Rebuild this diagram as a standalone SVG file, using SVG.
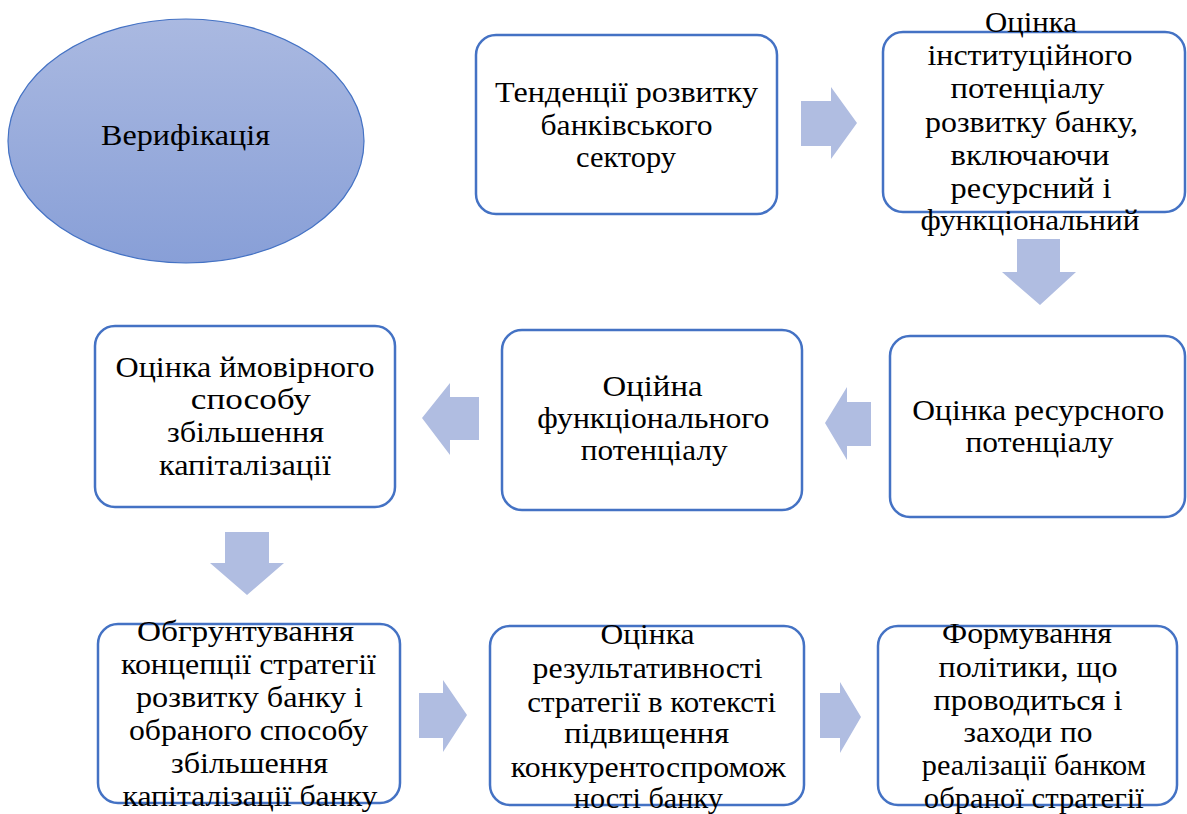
<svg xmlns="http://www.w3.org/2000/svg" width="1187" height="814" viewBox="0 0 1187 814">
<defs>
<linearGradient id="eg" x1="0" y1="0" x2="0" y2="1">
<stop offset="0" stop-color="#AAB9E1"/>
<stop offset="1" stop-color="#889FD7"/>
</linearGradient>
<style>
.box{fill:#FFFFFF;stroke:#4472C4;stroke-width:2.5}
.arr{fill:#B0BDE1;stroke:none}
text{font-family:'Liberation Serif','Times New Roman',serif;font-size:29px;fill:#000000;text-anchor:middle}
</style>
</defs>
<rect width="1187" height="814" fill="#FFFFFF"/>
<g id="connectors">
<path class="arr" d="M801,101 H831 V87 L857,123 L831,159 V146 H801 Z"/>
<path class="arr" d="M1017,239 H1060 V272 H1076 L1040,305 L1002,272 H1017 Z"/>
<path class="arr" d="M871,402 V446 H847 V460 L825,423 L847,387 V402 Z"/>
<path class="arr" d="M479,397 V440 H450 V455 L422,418 L450,383 V397 Z"/>
<path class="arr" d="M225,532 H269 V563 H284 L247,595 L210,563 H225 Z"/>
<path class="arr" d="M419,693 H443 V680 L467,715 L443,752 V738 H419 Z"/>
<path class="arr" d="M820,693 H840 V682 L861,717 L840,753 V738 H820 Z"/>
</g>
<g id="verification">
<ellipse cx="186" cy="141" rx="178" ry="122" fill="url(#eg)" stroke="#4472C4" stroke-width="1.2"/>
<text x="185.5" y="145" textLength="169" lengthAdjust="spacingAndGlyphs">Верифікація</text>
</g>
<g id="trends">
<rect class="box" x="476" y="35" width="301" height="179" rx="20"/>
<text x="626.5" y="101.5" textLength="263" lengthAdjust="spacingAndGlyphs">Тенденції розвитку</text>
<text x="626.5" y="134.5" textLength="172" lengthAdjust="spacingAndGlyphs">банківського</text>
<text x="626" y="166.5" textLength="100" lengthAdjust="spacingAndGlyphs">сектору</text>
</g>
<g id="institutional">
<rect class="box" x="883" y="32" width="302" height="180" rx="20"/>
<text x="1031" y="31.5" textLength="92" lengthAdjust="spacingAndGlyphs">Оцінка</text>
<text x="1030" y="65" textLength="205" lengthAdjust="spacingAndGlyphs">інституційного</text>
<text x="1027.5" y="98.3" textLength="154" lengthAdjust="spacingAndGlyphs">потенціалу</text>
<text x="1031.5" y="131.7" textLength="213" lengthAdjust="spacingAndGlyphs">розвитку банку,</text>
<text x="1030" y="165" textLength="159" lengthAdjust="spacingAndGlyphs">включаючи</text>
<text x="1031" y="198" textLength="161" lengthAdjust="spacingAndGlyphs">ресурсний і</text>
<text x="1030" y="230" textLength="219" lengthAdjust="spacingAndGlyphs">функціональний</text>
</g>
<g id="resource">
<rect class="box" x="890" y="336" width="295" height="181" rx="20"/>
<text x="1038.3" y="420" textLength="252" lengthAdjust="spacingAndGlyphs">Оцінка ресурсного</text>
<text x="1039.5" y="451.7" textLength="148" lengthAdjust="spacingAndGlyphs">потенціалу</text>
</g>
<g id="functional">
<rect class="box" x="502" y="330" width="300" height="180" rx="20"/>
<text x="652.5" y="396" textLength="100" lengthAdjust="spacingAndGlyphs">Оційна</text>
<text x="653.3" y="428.3" textLength="232" lengthAdjust="spacingAndGlyphs">функціонального</text>
<text x="654.2" y="460" textLength="147" lengthAdjust="spacingAndGlyphs">потенціалу</text>
</g>
<g id="capitalization">
<rect class="box" x="95" y="326" width="300" height="181" rx="20"/>
<text x="245" y="376.7" textLength="259" lengthAdjust="spacingAndGlyphs">Оцінка ймовірного</text>
<text x="250.8" y="409" textLength="120" lengthAdjust="spacingAndGlyphs">способу</text>
<text x="245.5" y="442" textLength="157" lengthAdjust="spacingAndGlyphs">збільшення</text>
<text x="245" y="475" textLength="172" lengthAdjust="spacingAndGlyphs">капіталізації</text>
</g>
<g id="concept">
<rect class="box" x="98" y="624" width="302" height="179" rx="20"/>
<text x="245.5" y="641" textLength="217" lengthAdjust="spacingAndGlyphs">Обгрунтування</text>
<text x="248.5" y="674" textLength="255" lengthAdjust="spacingAndGlyphs">концепції стратегії</text>
<text x="249.5" y="707" textLength="227" lengthAdjust="spacingAndGlyphs">розвитку банку і</text>
<text x="248.5" y="740" textLength="239" lengthAdjust="spacingAndGlyphs">обраного способу</text>
<text x="249.5" y="773" textLength="157" lengthAdjust="spacingAndGlyphs">збільшення</text>
<text x="250" y="806" textLength="255" lengthAdjust="spacingAndGlyphs">капіталізації банку</text>
</g>
<g id="effectiveness">
<rect class="box" x="490" y="626" width="314" height="179" rx="20"/>
<text x="647.5" y="644" textLength="94" lengthAdjust="spacingAndGlyphs">Оцінка</text>
<text x="647.5" y="678" textLength="230" lengthAdjust="spacingAndGlyphs">результативності</text>
<text x="651.7" y="711.7" textLength="249" lengthAdjust="spacingAndGlyphs">стратегії в котексті</text>
<text x="646.7" y="743" textLength="165" lengthAdjust="spacingAndGlyphs">підвищення</text>
<text x="648.3" y="776.7" textLength="275" lengthAdjust="spacingAndGlyphs">конкурентоспромож</text>
<text x="648.3" y="808" textLength="149" lengthAdjust="spacingAndGlyphs">ності банку</text>
</g>
<g id="policy">
<rect class="box" x="878" y="626" width="299" height="179" rx="20"/>
<text x="1027" y="643" textLength="170" lengthAdjust="spacingAndGlyphs">Формування</text>
<text x="1028" y="676.7" textLength="179" lengthAdjust="spacingAndGlyphs">політики, що</text>
<text x="1028" y="710" textLength="189" lengthAdjust="spacingAndGlyphs">проводиться і</text>
<text x="1028" y="741.7" textLength="129" lengthAdjust="spacingAndGlyphs">заходи по</text>
<text x="1033.8" y="775" textLength="224" lengthAdjust="spacingAndGlyphs">реалізації банком</text>
<text x="1033.8" y="808" textLength="220" lengthAdjust="spacingAndGlyphs">обраної стратегії</text>
</g>
</svg>
